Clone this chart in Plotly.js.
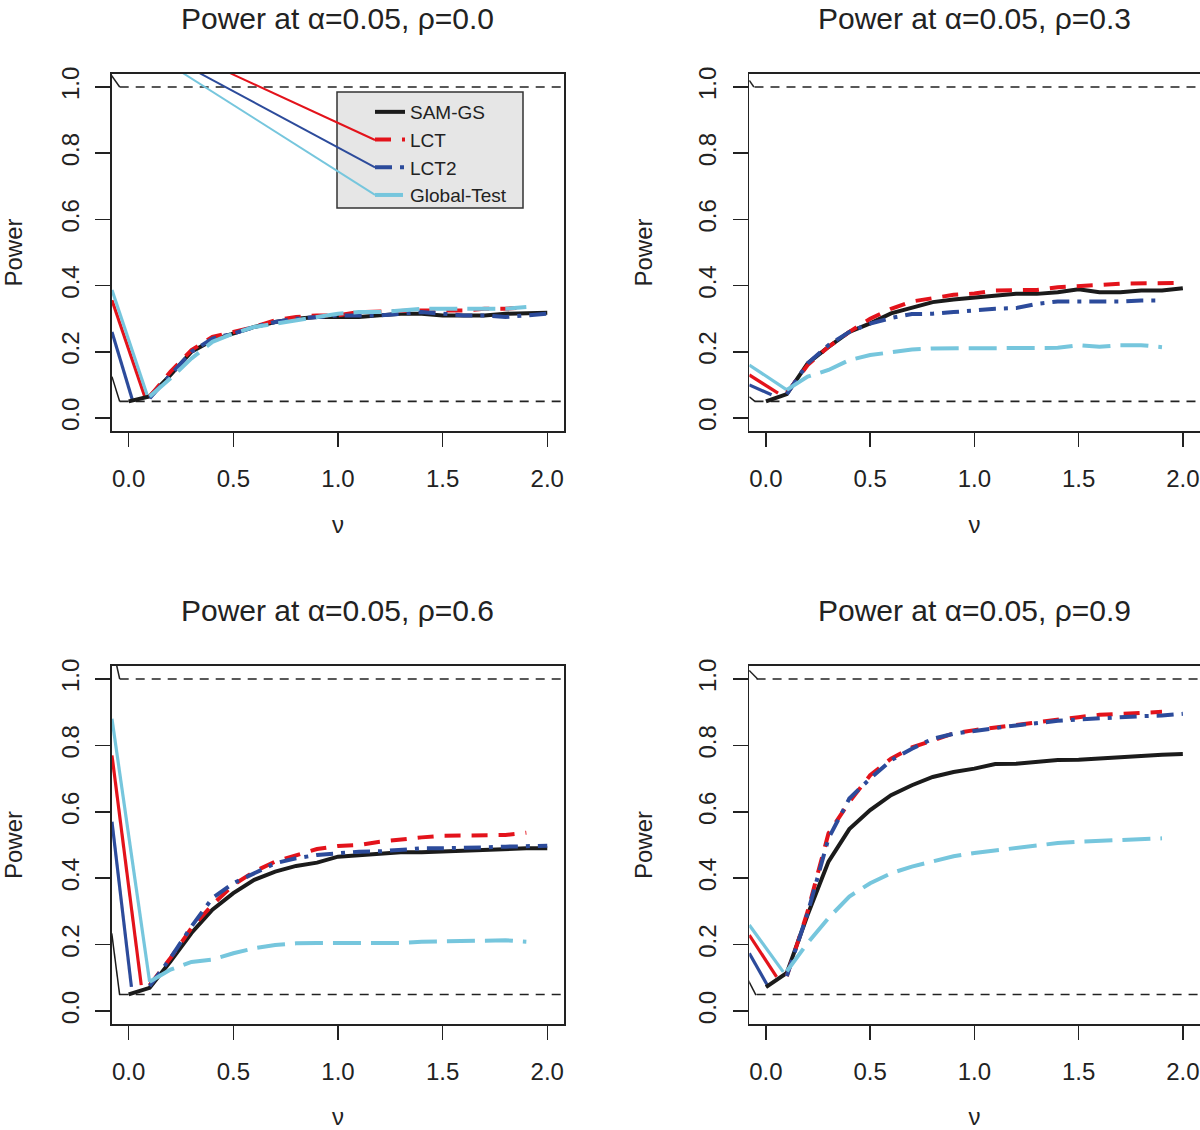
<!DOCTYPE html>
<html><head><meta charset="utf-8">
<script src="https://cdn.plot.ly/plotly-3.0.1.min.js"></script>
<style>html,body{margin:0;padding:0;background:#fff}#chart{width:1200px;height:1130px}</style>
</head><body><div id="chart"></div>
<script>
// ---------------- data ----------------
const nu = [0.0,0.1,0.2,0.3,0.4,0.5,0.6,0.7,0.8,0.9,1.0,1.1,1.2,1.3,1.4,1.5,1.6,1.7,1.8,1.9,2.0];
const seriesNames = ["SAM-GS","LCT","LCT2","Global-Test"];
const panelTitles = ["Power at \u03b1=0.05, \u03c1=0.0","Power at \u03b1=0.05, \u03c1=0.3","Power at \u03b1=0.05, \u03c1=0.6","Power at \u03b1=0.05, \u03c1=0.9"];
const xTickVals = [0,0.5,1,1.5,2];
const xTickText = ["0.0","0.5","1.0","1.5","2.0"];
const yTickVals = [0,0.2,0.4,0.6,0.8,1.0];
const yTickText = ["0.0","0.2","0.4","0.6","0.8","1.0"];
const refLevels = [0.05, 1.0];

// rho = 0.0  (SAM-GS starts at nu=0, the others at nu=0.1)
const samgs_r0 = [0.05,0.065,0.13,0.2,0.235,0.255,0.275,0.29,0.3,0.305,0.305,0.305,0.31,0.315,0.315,0.31,0.31,0.31,0.315,0.315,0.318];
const lct_r0   = [0.065,0.14,0.205,0.245,0.26,0.275,0.295,0.305,0.31,0.31,0.32,0.322,0.325,0.325,0.325,0.325,0.33,0.33,0.335];
const lct2_r0  = [0.06,0.13,0.2,0.24,0.255,0.275,0.29,0.3,0.305,0.31,0.31,0.31,0.315,0.32,0.315,0.31,0.31,0.305,0.31,0.315];
const gt_r0    = [0.065,0.12,0.18,0.23,0.255,0.275,0.285,0.295,0.305,0.315,0.32,0.32,0.325,0.33,0.33,0.33,0.33,0.33,0.335];
// rho = 0.3
const samgs_r3 = [0.05,0.072,0.165,0.215,0.26,0.286,0.316,0.334,0.35,0.358,0.364,0.37,0.375,0.375,0.38,0.389,0.38,0.38,0.385,0.385,0.392];
const lct_r3   = [0.075,0.16,0.215,0.26,0.3,0.33,0.352,0.362,0.372,0.376,0.385,0.386,0.387,0.395,0.4,0.402,0.406,0.406,0.407,0.408];
const lct2_r3  = [0.072,0.165,0.22,0.26,0.285,0.302,0.314,0.315,0.32,0.326,0.33,0.332,0.345,0.352,0.352,0.35,0.352,0.355,0.355];
const gt_r3    = [0.085,0.125,0.145,0.175,0.19,0.2,0.207,0.21,0.21,0.21,0.21,0.21,0.212,0.212,0.22,0.215,0.22,0.22,0.214];
// rho = 0.6
const samgs_r6 = [0.05,0.07,0.15,0.235,0.305,0.355,0.395,0.42,0.437,0.447,0.465,0.47,0.475,0.478,0.478,0.48,0.485,0.485,0.488,0.49,0.49];
const lct_r6   = [0.078,0.16,0.25,0.32,0.38,0.42,0.45,0.47,0.488,0.497,0.5,0.51,0.518,0.523,0.528,0.528,0.528,0.53,0.537];
const lct2_r6  = [0.075,0.16,0.255,0.34,0.385,0.415,0.445,0.46,0.47,0.475,0.48,0.481,0.487,0.49,0.49,0.49,0.493,0.495,0.497,0.498];
const gt_r6    = [0.088,0.125,0.148,0.155,0.174,0.189,0.199,0.204,0.205,0.205,0.205,0.205,0.205,0.209,0.21,0.21,0.21,0.213,0.209];
// rho = 0.9
const samgs_r9 = [0.072,0.115,0.29,0.45,0.548,0.605,0.65,0.68,0.705,0.72,0.73,0.744,0.745,0.751,0.756,0.757,0.761,0.763,0.767,0.772,0.774];
const lct_r9   = [0.105,0.3,0.535,0.63,0.71,0.76,0.794,0.816,0.836,0.846,0.854,0.862,0.871,0.878,0.885,0.892,0.894,0.898,0.901];
const lct2_r9  = [0.105,0.295,0.52,0.64,0.7,0.755,0.79,0.82,0.835,0.845,0.852,0.86,0.868,0.874,0.878,0.882,0.885,0.888,0.89,0.895];
const gt_r9    = [0.12,0.205,0.28,0.345,0.385,0.415,0.435,0.452,0.466,0.476,0.484,0.491,0.499,0.506,0.51,0.512,0.515,0.518,0.52];
const seriesStart = [0,1,1,1]; // index in nu of each series' first value

// stray lead-in strokes of the original figure (order: SAM-GS, LCT, LCT2, Global-Test)
const leadX_r0 = [[-0.08,-0.043],[-0.08,0.077],[-0.08,0.02],[-0.08,0.092]];
const leadY_r0 = [[0.125,0.05],[0.356,0.064],[0.26,0.05],[0.387,0.062]];
const leadX_r3 = [[-0.08,-0.053],[-0.08,0.058],[-0.08,0.027],[-0.08,0.1]];
const leadY_r3 = [[0.064,0.05],[0.13,0.075],[0.1,0.07],[0.16,0.085]];
const leadX_r6 = [[-0.081,-0.043],[-0.08,0.06],[-0.08,0.013],[-0.08,0.1]];
const leadY_r6 = [[0.234,0.048],[0.77,0.078],[0.57,0.073],[0.88,0.088]];
const leadX_r9 = [[-0.085,-0.048],[-0.08,0.051],[-0.08,0.011],[-0.08,0.083]];
const leadY_r9 = [[0.093,0.048],[0.229,0.103],[0.174,0.073],[0.259,0.118]];
const topX = [[-0.083,-0.043],[-0.08,-0.058],[-0.059,-0.043],[-0.087,-0.04]];
const topY = [[1.036,1.0],[1.02,1.0],[1.045,1.0],[1.03,1.0]];
const hlineStart = [-0.043,-0.055,-0.043,-0.045];
const hlineEnd = 2.1;
// strokes running into the legend keys (panel 1: LCT, LCT2, Global-Test)
const legLeadX = [[0.474,1.177],[0.33,1.177],[0.252,1.177]];
const legLeadY = [[1.045,0.84],[1.045,0.757],[1.045,0.674]];

// ---------------- styles ----------------
const colors = ['#1b1b1b','#e3131b','#2c4b9b','#76c6dd'];
const dashes = ['solid','16px,11px','17px,8px,4px,8px','28px,10px'];
const FONT = 'Liberation Sans, Arial, Helvetica, sans-serif';
const INK = '#222';

const panels = [
  {sfx:'',  ys:[samgs_r0,lct_r0,lct2_r0,gt_r0], lx:leadX_r0, ly:leadY_r0},
  {sfx:'2', ys:[samgs_r3,lct_r3,lct2_r3,gt_r3], lx:leadX_r3, ly:leadY_r3},
  {sfx:'3', ys:[samgs_r6,lct_r6,lct2_r6,gt_r6], lx:leadX_r6, ly:leadY_r6},
  {sfx:'4', ys:[samgs_r9,lct_r9,lct2_r9,gt_r9], lx:leadX_r9, ly:leadY_r9}
];

const traces = [];
panels.forEach((p, pi) => {
  const xa = 'x' + p.sfx, ya = 'y' + p.sfx;
  refLevels.forEach(lv => traces.push({type:'scatter', mode:'lines', xaxis:xa, yaxis:ya,
    x:[hlineStart[pi], hlineEnd], y:[lv, lv], showlegend:false, hoverinfo:'skip',
    line:{color:INK, width:1.6, dash:'9px,7px'}}));
  traces.push({type:'scatter', mode:'lines', xaxis:xa, yaxis:ya, x:topX[pi], y:topY[pi],
    showlegend:false, hoverinfo:'skip', line:{color:INK, width:1.5}});
  p.lx.forEach((lx, si) => traces.push({type:'scatter', mode:'lines', xaxis:xa, yaxis:ya,
    x:lx, y:p.ly[si], showlegend:false, hoverinfo:'skip',
    line:{color:colors[si], width: si === 0 ? 1.5 : 3.2}}));
  if (pi === 0) {
    legLeadX.forEach((lx, k) => traces.push({type:'scatter', mode:'lines', xaxis:xa, yaxis:ya,
      x:lx, y:legLeadY[k], showlegend:false, hoverinfo:'skip',
      line:{color:colors[k+1], width:2}}));
  }
  p.ys.forEach((ys, si) => traces.push({type:'scatter', mode:'lines', xaxis:xa, yaxis:ya,
    name:seriesNames[si], x:nu.slice(seriesStart[si], seriesStart[si] + ys.length), y:ys,
    showlegend: pi === 0, line:{color:colors[si], width:4, dash:dashes[si]}}));
});

const xL = [0.0933, 0.47], xR = [0.6244, 0.9996];
const yT = [0.6184, 0.9347], yB = [0.0935, 0.4109];

function xAxis(domain, anchor) {
  return {domain, anchor, range:[-0.08,2.08], tickvals:xTickVals, ticktext:xTickText,
    ticks:'outside', ticklen:14, tickwidth:1.5, tickcolor:INK,
    showline:true, mirror:true, linecolor:INK, linewidth:1.5,
    showgrid:false, zeroline:false, tickfont:{size:24, color:INK, family:FONT},
    ticklabelstandoff:11,
    title:{text:'\u03bd', font:{size:24, color:INK, family:FONT}, standoff:25}};
}
function yAxis(domain, anchor) {
  return {domain, anchor, range:[-0.04,1.04], tickvals:yTickVals, ticktext:yTickText,
    ticks:'outside', ticklen:15, tickwidth:1.5, tickcolor:INK, tickangle:-90,
    showline:true, mirror:true, linecolor:INK, linewidth:1.5,
    showgrid:false, zeroline:false, tickfont:{size:24, color:INK, family:FONT},
    ticklabelstandoff:7,
    title:{text:'Power', font:{size:24, color:INK, family:FONT}, standoff:35}};
}

const titleY = [1 - 0/1130, 1 - 592/1130];
const annotations = panelTitles.map((t, i) => ({
  text:t, xref:'paper', yref:'paper', showarrow:false,
  x: i % 2 === 0 ? (xL[0]+xL[1])/2 : (xR[0]+xR[1])/2,
  y: i < 2 ? titleY[0] : titleY[1], xanchor:'center', yanchor:'top',
  font:{size:30, color:INK, family:FONT}}));

const layout = {
  width:1200, height:1130, margin:{l:0, r:0, t:0, b:0},
  paper_bgcolor:'#fff', plot_bgcolor:'#fff',
  font:{family:FONT, color:INK},
  xaxis:xAxis(xL,'y'), yaxis:yAxis(yT,'x'),
  xaxis2:xAxis(xR,'y2'), yaxis2:yAxis(yT,'x2'),
  xaxis3:xAxis(xL,'y3'), yaxis3:yAxis(yB,'x3'),
  xaxis4:xAxis(xR,'y4'), yaxis4:yAxis(yB,'x4'),
  showlegend:true,
  legend:{x:370/1200, y:1 - 93/1130, xanchor:'left', yanchor:'top',
    bgcolor:'rgba(0,0,0,0)', borderwidth:0, font:{size:19, color:INK, family:FONT}},
  shapes:[{type:'rect', xref:'paper', yref:'paper', layer:'below',
    x0:337/1200, x1:523/1200, y0:1 - 208/1130, y1:1 - 92/1130,
    fillcolor:'#e6e6e6', line:{color:'#333', width:1.5}}],
  annotations
};

Plotly.newPlot('chart', traces, layout, {staticPlot:true, displayModeBar:false});
</script>
</body></html>
